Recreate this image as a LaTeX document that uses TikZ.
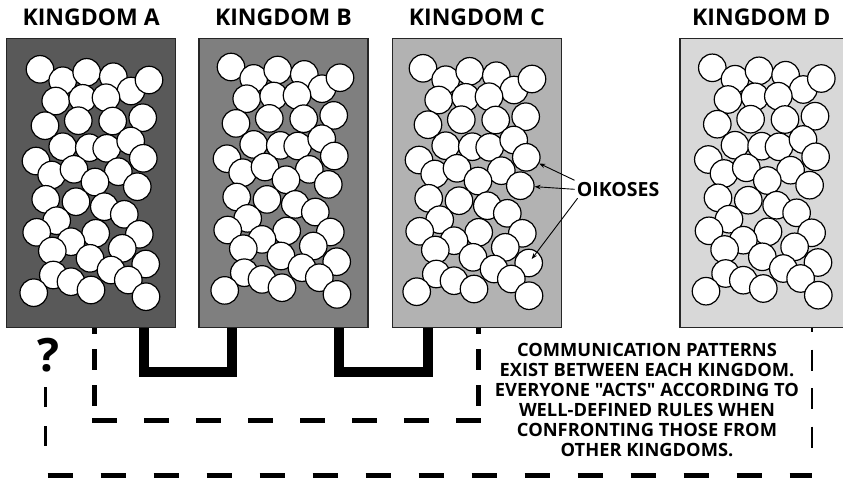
\documentclass[tikz,border=0pt]{standalone}
\usepackage{fontspec}
\setmainfont{Open Sans}[Ligatures=TeXOff]
\usetikzlibrary{arrows.meta,calc}

\definecolor{shadeA}{HTML}{595959}
\definecolor{shadeB}{HTML}{7F7F7F}
\definecolor{shadeC}{HTML}{B2B2B2}
\definecolor{shadeD}{HTML}{D8D8D8}

% centres of the oikoi inside one kingdom (kingdom A frame)
\def\celllist{40/69.3, 62.7/80.7, 86.7/72.3, 113.3/76.7, 131/91, 149/80,
  55.7/101, 82.7/98.3, 106/97.7, 45/125.7, 78.3/120.7, 112.7/121, 142.7/117.7,
  62.7/146.7, 89.3/147.7, 106.7/148.3, 130.7/141, 36/161, 143.3/158.3,
  51.7/175, 74/169.3, 118.3/171.7, 137.3/186.7, 95/182,
  45.7/199.3, 76/201.7, 104.3/206.7, 124.3/214.3, 56.7/220.7, 36.7/232.3,
  95.7/233.3, 139.3/234.3, 71/241.7, 122.3/248.3, 52.3/251, 90/258.3,
  145.7/264, 111/270, 53.3/275, 71/281.7, 128.3/280, 91/290, 33.7/292.7,
  146/296.7}

\newcommand\placecells[3]{%
  \foreach \cx/\cy [count=\ci] in \celllist {%
    \node[oikos] (#1-\ci) at ({\cx+#2},{\cy+#3}) {};
  }%
}

\begin{document}
\begin{tikzpicture}[x=1pt,y=-1pt,
  kbox/.style={draw=black!85, line width=1.3pt, minimum width=169pt,
    minimum height=289pt, anchor=north west, inner sep=0pt},
  oikos/.style={circle, draw=black, fill=white, line width=1.2pt,
    minimum size=27.5pt, inner sep=0pt},
  title/.style={font=\fontsize{23}{27}\selectfont\bfseries, inner sep=0pt},
  link/.style={line width=10pt, line join=miter},
  dashV/.style={line width=5pt, dash pattern=on 21pt off 15pt, dash phase=14pt},
  dashH/.style={line width=5pt, dash pattern=on 25pt off 27pt},
  outerV/.style={line width=2.6pt, dash pattern=on 20pt off 19pt},
  outerH/.style={line width=4.5pt, dash pattern=on 25pt off 28pt},
  pointer/.style={line width=0.9pt, -{Stealth[length=6pt,width=4.5pt]}},
  note/.style={font=\fontsize{18.3}{20}\selectfont\bfseries, align=center,
    inner sep=0pt}
]
\useasboundingbox (0,0) rectangle (843,477);

% anchor points of the connectors on the kingdom floors
\coordinate (a1) at (143.7,327);
\coordinate (b1) at (232,327);
\coordinate (b2) at (339.3,327);
\coordinate (c2) at (427.7,327);
\coordinate (ia) at (94.8,327);
\coordinate (ib) at (94.8,420);
\coordinate (ic) at (478.5,420);
\coordinate (id) at (478.5,327);
\coordinate (oa) at (45.3,387);
\coordinate (ob) at (45.3,446);
\coordinate (oc) at (47.7,475.5);
\coordinate (od) at (812,475.5);
\coordinate (oe) at (812,448);
\coordinate (of) at (812,327);

% direct communication between neighbours
\draw[link] (a1) -- ++(0,45) -| (b1);
\draw[link] (b2) -- ++(0,45) -| (c2);

% indirect communication A -- C
\draw[dashV] (ia) -- (ib);
\draw[dashH] ([xshift=-2.5pt]ib) -- ([xshift=3pt]ic);
\draw[dashV] (id) -- (ic);

% uncertain communication A -- D
\draw[outerV] (oa) -- (ob);
\draw[outerH] (oc) -- (od);
\draw[outerV, dash pattern=on 21pt off 17.5pt, dash phase=16pt] (of) -- (oe);

% the four kingdoms
\node[kbox, fill=shadeA] (A) at (6,38) {};
\node[kbox, fill=shadeB] (B) at (198.3,38) {};
\node[kbox, fill=shadeC] (C) at (391.7,38) {};
\node[kbox, fill=shadeD, minimum width=163.3pt] (D) at (679.3,38) {};

\placecells{A}{0}{0}
\placecells{B}{191}{-2.3}
\placecells{C}{383}{-1}
\placecells{D}{672.3}{-1.5}

\node[title] (tA) at (A.north |- 0,17.5) {KINGDOM A};
\node[title] (tB) at (B.north |- 0,17.5) {KINGDOM B};
\node[title] (tC) at (C.north |- 0,17.5) {KINGDOM C};
\node[title] (tD) at (761.3,17.5) {KINGDOM D};

% label for the oikoi
\node[font=\fontsize{19.5}{23}\selectfont\bfseries, inner sep=2pt] (lbl) at (618,189.3) {OIKOSES};
\draw[pointer] ([yshift=9pt]lbl.west) -- (C-19);
\draw[pointer] (lbl.west) -- (C-23);
\draw[pointer, shorten >=5pt] ([xshift=3pt,yshift=-9pt]lbl.west) -- (C-37.center);

\node[font=\fontsize{46}{50}\selectfont\bfseries, inner sep=0pt] (q) at (48,355) {?};

\node[note] (txt) at (647,399.5) {COMMUNICATION PATTERNS\\
EXIST BETWEEN EACH KINGDOM.\\
EVERYONE "ACTS" ACCORDING TO\\
WELL-DEFINED RULES WHEN\\
CONFRONTING THOSE FROM\\
OTHER KINGDOMS.};
\end{tikzpicture}
\end{document}
